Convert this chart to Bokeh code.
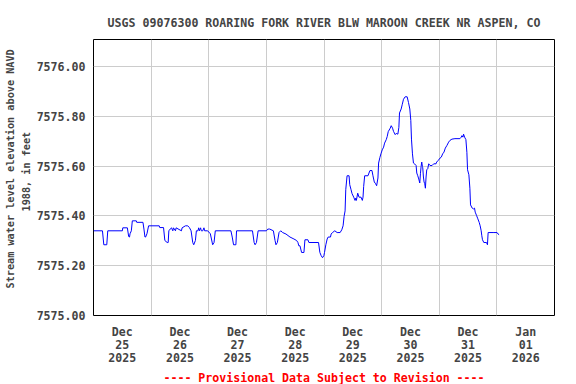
from bokeh.plotting import figure
from bokeh.models import FixedTicker, Title, NumeralTickFormatter, ColumnDataSource
from bokeh.embed import file_html
from bokeh.resources import INLINE

# hours since 2025-12-25 00:00 (local) and stream water level (ft, NAVD 1988)
hours = [0, 3.73, 4.29, 5.53, 5.94, 12.03, 12.2, 14.10, 14.65, 15.0, 15.21, 15.76, 16.17, 17.83, 18.0,
         20.60, 21.01, 21.43, 21.70, 22.26, 22.95, 27.37, 27.6, 29.17, 29.72, 30.69, 31.10, 31.38, 31.93,
         32.48, 33.04, 33.3, 34.14, 34.4, 36.63, 36.9, 38.29, 39.26, 39.95, 40.64, 41.33, 41.75, 42.44,
         42.85, 43.5, 43.8, 44.1, 44.6, 44.9, 45.5, 46.0, 46.3, 47.55, 48.66, 49.63, 50.2, 50.73, 57.23,
         57.78, 58.33, 59.3, 59.58, 66.21, 66.90, 67.3, 67.87, 68.56, 72.02, 72.6, 73.40, 74.92, 75.61,
         76.0, 76.58, 77.27, 77.96, 78.79, 80.17, 81.83, 83.49, 84.6, 85.15, 85.5, 85.98,
         86.67, 87.64, 88.06, 89.30, 89.72, 93.72, 94.28, 94.83, 95.38, 95.94, 96.21, 96.77, 97.32, 97.73,
         98.70, 98.98, 99.53, 100.50, 101.47, 102.71, 103.40, 103.95, 104.37, 104.78, 105.06, 105.61,
         106.44, 106.72, 107.27, 107.69, 108.38, 108.93, 109.21, 109.48, 110.04, 110.59, 111.42, 111.97,
         112.25, 112.52, 112.94, 114.32, 114.74, 115.15, 115.98, 116.39, 116.95, 117.50, 117.92, 118.47,
         118.74, 119.30, 119.71, 120.26, 120.82, 121.23, 121.92, 122.34, 122.75, 123.58, 124.00, 124.55,
         124.96, 125.66, 126.07, 126.76, 127.18, 127.45, 128.14, 128.56, 129.11, 129.80, 130.63, 131.19,
         131.74, 132.15, 132.43, 132.84, 133.26, 133.81, 134.36, 134.64, 135.05, 135.47, 135.88, 136.16,
         136.44, 136.71, 136.99, 137.13, 137.41, 137.68, 137.96, 138.23, 138.51, 138.79, 139.20, 139.62,
         140.17, 141.00, 141.69, 142.66, 142.93, 143.62, 144.32, 144.87, 145.42, 145.98, 146.53, 147.22,
         147.91, 148.46, 149.29, 150.54, 152.61, 153.16, 153.44, 153.86, 154.13, 154.55, 155.10, 155.51,
         155.79, 156.34, 156.76, 157.03, 157.72, 158.28, 158.69, 158.97, 159.52, 160.08, 160.63, 161.04,
         161.46, 161.73, 162.01, 162.56, 163.67, 164.08, 164.36, 166.43, 168.09, 168.51, 168.92]

level = [7575.340, 7575.340, 7575.284, 7575.284, 7575.340, 7575.340, 7575.352, 7575.352, 7575.317,
         7575.315, 7575.328, 7575.340, 7575.380, 7575.380, 7575.374, 7575.374, 7575.347, 7575.315,
         7575.315, 7575.328, 7575.360, 7575.360, 7575.353, 7575.353, 7575.301, 7575.293, 7575.293,
         7575.340, 7575.347, 7575.352, 7575.340, 7575.352, 7575.340, 7575.352, 7575.340, 7575.352,
         7575.360, 7575.360, 7575.353, 7575.340, 7575.293, 7575.284, 7575.301, 7575.340, 7575.340,
         7575.352, 7575.340, 7575.352, 7575.340, 7575.340, 7575.352, 7575.340, 7575.340, 7575.328,
         7575.284, 7575.293, 7575.340, 7575.340, 7575.315, 7575.284, 7575.284, 7575.340, 7575.340,
         7575.293, 7575.284, 7575.293, 7575.340, 7575.340, 7575.347, 7575.347, 7575.340, 7575.301,
         7575.284, 7575.293, 7575.333, 7575.340, 7575.333, 7575.327, 7575.315, 7575.307, 7575.301,
         7575.293, 7575.280, 7575.280,
         7575.253, 7575.253, 7575.304, 7575.304, 7575.293, 7575.293, 7575.253, 7575.240, 7575.232,
         7575.240, 7575.253, 7575.284, 7575.307, 7575.315, 7575.315, 7575.327, 7575.333, 7575.340,
         7575.333, 7575.333, 7575.344, 7575.360, 7575.398, 7575.420, 7575.505, 7575.561, 7575.561,
         7575.525, 7575.505, 7575.489, 7575.475, 7575.462, 7575.471, 7575.462, 7575.491, 7575.475,
         7575.475, 7575.462, 7575.475, 7575.518, 7575.561, 7575.561, 7575.572, 7575.582, 7575.582,
         7575.561, 7575.536, 7575.529, 7575.521, 7575.552, 7575.612, 7575.635, 7575.649, 7575.665,
         7575.676, 7575.692, 7575.706, 7575.719, 7575.738, 7575.752, 7575.762, 7575.752, 7575.739,
         7575.726, 7575.731, 7575.728, 7575.755, 7575.813, 7575.829, 7575.846, 7575.868, 7575.878,
         7575.878, 7575.855, 7575.829, 7575.783, 7575.708, 7575.649, 7575.612, 7575.608, 7575.602,
         7575.572, 7575.561, 7575.548, 7575.532, 7575.569, 7575.598, 7575.616, 7575.598, 7575.593,
         7575.556, 7575.536, 7575.529, 7575.511, 7575.556, 7575.585, 7575.589, 7575.609, 7575.602,
         7575.602, 7575.609, 7575.609, 7575.616, 7575.623, 7575.632, 7575.636, 7575.649, 7575.656,
         7575.672, 7575.683, 7575.696, 7575.703, 7575.708, 7575.710, 7575.710, 7575.716, 7575.722,
         7575.716, 7575.728, 7575.716, 7575.706, 7575.655, 7575.585, 7575.565, 7575.511, 7575.444,
         7575.431, 7575.428, 7575.431, 7575.415, 7575.402, 7575.388, 7575.374, 7575.360, 7575.340,
         7575.320, 7575.304, 7575.293, 7575.293, 7575.284, 7575.333, 7575.333, 7575.333, 7575.327,
         7575.324]

# axis ticks / labels
x_label_hours = [12, 36, 60, 84, 108, 132, 156, 180]
x_labels = ["Dec\n25\n2025", "Dec\n26\n2025", "Dec\n27\n2025", "Dec\n28\n2025",
            "Dec\n29\n2025", "Dec\n30\n2025", "Dec\n31\n2025", "Jan\n01\n2026"]
x_grid_hours = [0, 24, 48, 72, 96, 120, 144, 168, 192]
y_ticks = [7575.0, 7575.2, 7575.4, 7575.6, 7575.8, 7576.0]

title_text = "USGS 09076300 ROARING FORK RIVER BLW MAROON CREEK NR ASPEN, CO"
ylabel_1 = "Stream water level elevation above NAVD"
ylabel_2 = "1988, in feet"
footer_text = "---- Provisional Data Subject to Revision ----"

FONT = "DejaVu Sans Mono"

p = figure(width=576, height=384, x_range=(0, 192), y_range=(7575.0, 7576.108),
           output_backend="svg", toolbar_location=None,
           min_border_left=92, min_border_right=22, min_border_top=39, min_border_bottom=69)

src = ColumnDataSource(data=dict(h=hours, v=level))
p.line("h", "v", source=src, line_color="#0000ff", line_width=1)

p.title.text = title_text
p.title.align = "center"
p.title.text_font = FONT
p.title.text_font_style = "bold"
p.title.text_font_size = "11.6px"
p.title.standoff = 20

p.outline_line_color = "black"
p.outline_line_width = 1
p.background_fill_color = "white"
p.border_fill_color = "white"

xa = p.xaxis[0]
xa.ticker = FixedTicker(ticks=x_label_hours)
xa.major_label_overrides = {h: lab for h, lab in zip(x_label_hours, x_labels)}
xa.major_tick_line_color = None
xa.minor_tick_line_color = None
xa.major_tick_out = 0
xa.major_tick_in = 0
xa.minor_tick_out = 0
xa.axis_line_color = None
xa.major_label_standoff = 9
xa.major_label_text_font = FONT
xa.major_label_text_font_style = "bold"
xa.major_label_text_font_size = "11.6px"
xa.major_label_text_line_height = 0.95

ya = p.yaxis[0]
ya.ticker = FixedTicker(ticks=y_ticks)
ya.formatter = NumeralTickFormatter(format="0.00")
ya.major_tick_line_color = None
ya.minor_tick_line_color = None
ya.major_tick_out = 0
ya.major_tick_in = 0
ya.minor_tick_out = 0
ya.axis_line_color = None
ya.major_label_standoff = 8
ya.major_label_text_font = FONT
ya.major_label_text_font_style = "bold"
ya.major_label_text_font_size = "11.6px"

p.xgrid.ticker = FixedTicker(ticks=x_grid_hours)
p.xgrid.grid_line_color = "#cccccc"
p.ygrid.grid_line_color = "#cccccc"

p.add_layout(Title(text=ylabel_2, align="left", offset=104, text_font=FONT, text_font_style="bold",
                   text_font_size="10.2px", standoff=3), "left")
p.add_layout(Title(text=ylabel_1, align="left", offset=27, text_font=FONT, text_font_style="bold",
                   text_font_size="10.2px", standoff=4), "left")
p.add_layout(Title(text=footer_text, align="center", text_font=FONT, text_font_style="bold",
                   text_font_size="11.6px", text_color="#ff0000", standoff=0), "below")

open("out.html", "w").write(file_html(p, INLINE))
